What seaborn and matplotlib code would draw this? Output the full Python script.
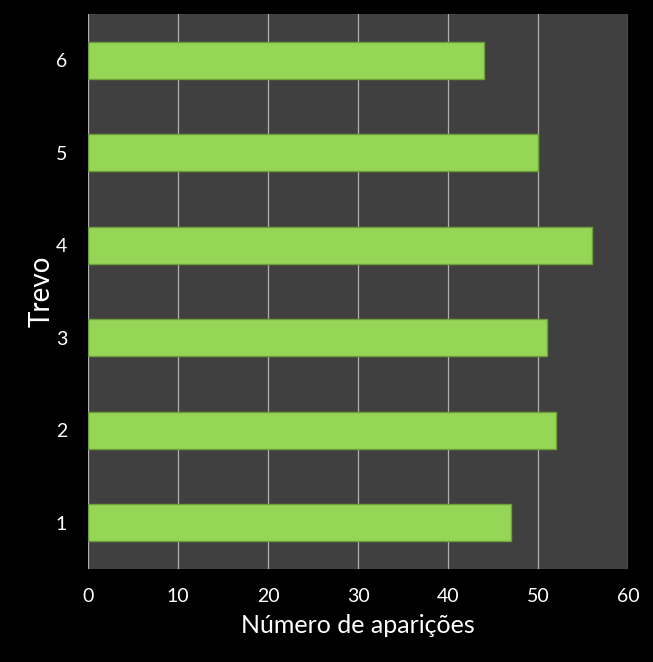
import seaborn as sns
import matplotlib.pyplot as plt
import pandas as pd

trevos = ["6", "5", "4", "3", "2", "1"]
aparicoes = [44, 50, 56, 51, 52, 47]

df = pd.DataFrame({"trevo": trevos, "n": aparicoes})

sns.set_style("dark")
plt.rcParams["font.family"] = ["Lato", "DejaVu Sans"]

fig = plt.figure(figsize=(6.53, 6.62), dpi=100, facecolor="black")
ax = fig.add_axes([0.1348, 0.1405, 0.8269, 0.8384])
ax.set_facecolor("#404040")

sns.barplot(data=df, x="n", y="trevo", order=trevos, color="#96d657",
            saturation=1, width=0.4, edgecolor="#6f9e3c", linewidth=1.0, ax=ax)

ax.set_xlim(0, 60)
ax.set_xticks(range(0, 61, 10))
ax.grid(axis="x", color="#b0b0b0", linewidth=0.9)
ax.grid(axis="y", visible=False)
ax.set_axisbelow(True)
for s in ax.spines.values():
    s.set_visible(False)

ax.tick_params(axis="both", colors="white", length=0, labelsize=14)
ax.tick_params(axis="x", pad=14)
ax.tick_params(axis="y", pad=15)
ax.set_xlabel("Número de aparições", color="white", fontsize=18, labelpad=6)
ax.set_ylabel("Trevo", color="white", fontsize=20, labelpad=1)

fig.savefig("out.png", dpi=100, facecolor="black")
